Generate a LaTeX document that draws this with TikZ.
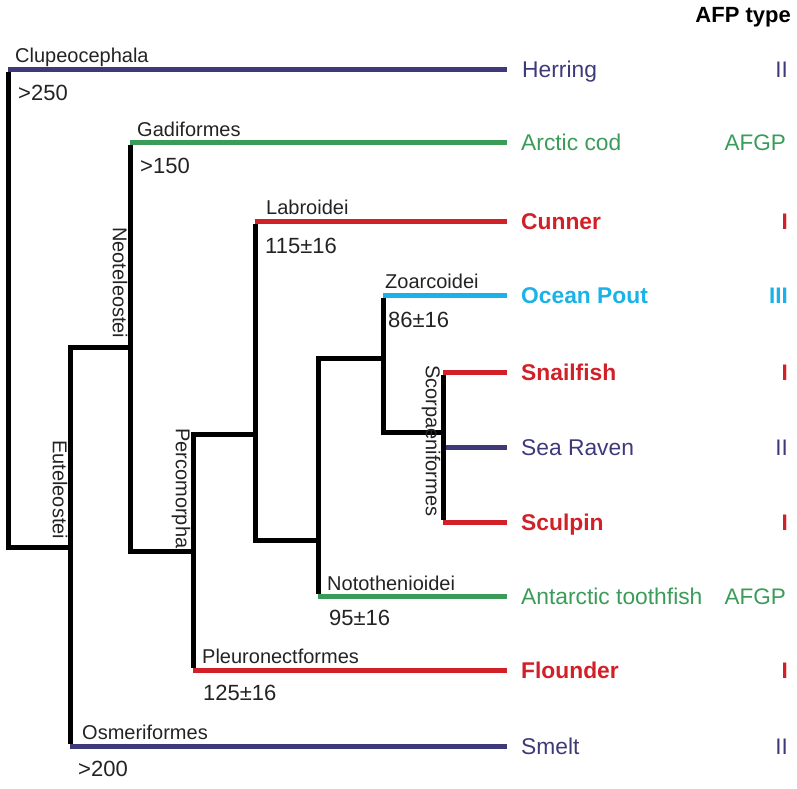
\documentclass[tikz,border=0pt]{standalone}
\usepackage{fontspec}
\setmainfont{Liberation Sans}
\definecolor{fpurple}{RGB}{62,58,122}
\definecolor{fgreen}{RGB}{58,156,88}
\definecolor{fred}{RGB}{210,32,40}
\definecolor{fcyan}{RGB}{26,178,232}
\definecolor{labgray}{RGB}{35,35,35}
\begin{document}
\begin{tikzpicture}[x=1pt,y=-1pt,
  tree/.style={line width=5pt, line join=miter, line cap=butt, black},
  branch/.style={line width=5pt, line cap=butt},
  leaf/.style={anchor=base west, inner sep=0pt, font=\fontsize{22.8}{26}\selectfont},
  ltype/.style={anchor=base east, inner sep=0pt, font=\fontsize{22.5}{26}\selectfont},
  clade/.style={anchor=base west, inner sep=0pt, text=labgray, font=\fontsize{20}{24}\selectfont},
  age/.style={anchor=base west, inner sep=0pt, text=labgray, font=\fontsize{22}{26}\selectfont},
  vclade/.style={rotate=-90, anchor=north west, inner sep=0pt, text=labgray, font=\fontsize{20}{24}\selectfont}
]
\useasboundingbox (0,0) rectangle (797,788);

% leaf end coordinates (right ends of branches)
\coordinate (eHer) at (507,69);
\coordinate (eCod) at (507,142);
\coordinate (eCun) at (507,221);
\coordinate (ePou) at (507,295);
\coordinate (eSna) at (507,372);
\coordinate (eRav) at (507,447);
\coordinate (eScu) at (507,522);
\coordinate (eToo) at (507,596);
\coordinate (eFlo) at (507,670);
\coordinate (eSme) at (507,746);

% branch start coordinates
\coordinate (sHer) at (8,69);
\coordinate (sCod) at (130,142);
\coordinate (sCun) at (255,221);
\coordinate (sPou) at (383,295);
\coordinate (sSna) at (443,372);
\coordinate (sRav) at (443,447);
\coordinate (sScu) at (443,522);
\coordinate (sToo) at (318,596);
\coordinate (sFlo) at (193,670);
\coordinate (sSme) at (70,746);

% coloured terminal branches
\draw[branch, fpurple] (sHer) -- (eHer);
\draw[branch, fgreen]  (sCod) -- (eCod);
\draw[branch, fred]    (sCun) -- (eCun);
\draw[branch, fcyan]   (sPou) -- (ePou);
\draw[branch, fred]    (sSna) -- (eSna);
\draw[branch, fpurple] (sRav) -- (eRav);
\draw[branch, fred]    (sScu) -- (eScu);
\draw[branch, fgreen]  (sToo) -- (eToo);
\draw[branch, fred]    (sFlo) -- (eFlo);
\draw[branch, fpurple] (sSme) -- (eSme);

% internal junctions
\coordinate (jRoot) at (8,547);
\coordinate (jEut)  at (70,547);
\coordinate (jEutT) at (70,347);
\coordinate (jNeoB) at (130,347);
\coordinate (jNeo)  at (130,551);
\coordinate (jPerB) at (193,551);
\coordinate (jPerT) at (193,434);
\coordinate (jLabT) at (255,434);
\coordinate (jLab)  at (255,540);
\coordinate (jNotB) at (318,540);
\coordinate (jNotT) at (318,358);
\coordinate (jZoaB) at (383,358);
\coordinate (jZoa)  at (383,432);
\coordinate (jScoB) at (443,432);

% black tree skeleton
\draw[tree] ([yshift=-2.5pt]sHer) -- (jRoot) -- (jEut);
\draw[tree] ([yshift=2.5pt]sSme) -- (jEutT) -- (jNeoB);
\draw[tree] ([yshift=-2.5pt]sCod) -- (jNeo) -- (jPerB);
\draw[tree] (jLabT) -- (jPerT) -- ([yshift=2.5pt]sFlo);
\draw[tree] ([yshift=-2.5pt]sCun) -- (jLab) -- (jNotB);
\draw[tree] ([yshift=2.5pt]sToo) -- (jNotT) -- (jZoaB);
\draw[tree] ([yshift=-2.5pt]sPou) -- (jZoa) -- (jScoB);
\draw[tree] ([yshift=-2.5pt]sSna) -- ([yshift=2.5pt]sScu);

% clade labels
\node[clade] (lClu) at (15,62) {Clupeocephala};
\node[age]   (aClu) at (18,100) {>250};
\node[clade] (lGad) at (137,136) {Gadiformes};
\node[age]   (aGad) at (140,173) {>150};
\node[clade] (lLab) at (266,214) {Labroidei};
\node[age]   (aLab) at (265,253) {115±16};
\node[clade] (lZoa) at (385,288) {Zoarcoidei};
\node[age]   (aZoa) at (388,327) {86±16};
\node[clade] (lNot) at (327,590) {Notothenioidei};
\node[age]   (aNot) at (329,625) {95±16};
\node[clade] (lPle) at (202,663) {Pleuronectformes};
\node[age]   (aPle) at (203,700) {125±16};
\node[clade] (lOsm) at (82,739) {Osmeriformes};
\node[age]   (aOsm) at (78,776) {>200};

% rotated clade labels
\node[vclade] (lNeo) at (127.5,227) {Neoteleostei};
\node[vclade] (lEut) at (67.5,440) {Euteleostei};
\node[vclade] (lPer) at (190.5,428) {Percomorpha};
\node[vclade] (lSco) at (440.5,365) {Scorpaeniformes};

% leaf names
\node[leaf, text=fpurple] (nHer) at (522,77) {Herring};
\node[leaf, text=fgreen]  (nCod) at (521,150) {Arctic cod};
\node[leaf, text=fred, font=\fontsize{22.8}{26}\selectfont\bfseries] (nCun) at (521,229) {Cunner};
\node[leaf, text=fcyan, font=\fontsize{22.8}{26}\selectfont\bfseries] (nPou) at (521,303) {Ocean Pout};
\node[leaf, text=fred, font=\fontsize{22.8}{26}\selectfont\bfseries] (nSna) at (521,380) {Snailfish};
\node[leaf, text=fpurple] (nRav) at (521,455) {Sea Raven};
\node[leaf, text=fred, font=\fontsize{22.8}{26}\selectfont\bfseries] (nScu) at (521,530) {Sculpin};
\node[leaf, text=fgreen]  (nToo) at (521,604) {Antarctic toothfish};
\node[leaf, text=fred, font=\fontsize{22.8}{26}\selectfont\bfseries] (nFlo) at (521,678) {Flounder};
\node[leaf, text=fpurple] (nSme) at (521,754) {Smelt};

% AFP types
\node[ltype, font=\fontsize{22}{26}\selectfont\bfseries] (hdr) at (791,22) {AFP type};
\node[ltype, text=fpurple] (tHer) at (788,77) {II};
\node[ltype, text=fgreen]  (tCod) at (786,150) {AFGP};
\node[ltype, text=fred, font=\fontsize{22.5}{26}\selectfont\bfseries] (tCun) at (788,229) {I};
\node[ltype, text=fcyan, font=\fontsize{22.5}{26}\selectfont\bfseries] (tPou) at (788,303) {III};
\node[ltype, text=fred, font=\fontsize{22.5}{26}\selectfont\bfseries] (tSna) at (788,380) {I};
\node[ltype, text=fpurple] (tRav) at (788,455) {II};
\node[ltype, text=fred, font=\fontsize{22.5}{26}\selectfont\bfseries] (tScu) at (788,530) {I};
\node[ltype, text=fgreen]  (tToo) at (786,604) {AFGP};
\node[ltype, text=fred, font=\fontsize{22.5}{26}\selectfont\bfseries] (tFlo) at (788,678) {I};
\node[ltype, text=fpurple] (tSme) at (788,754) {II};
\end{tikzpicture}
\end{document}
